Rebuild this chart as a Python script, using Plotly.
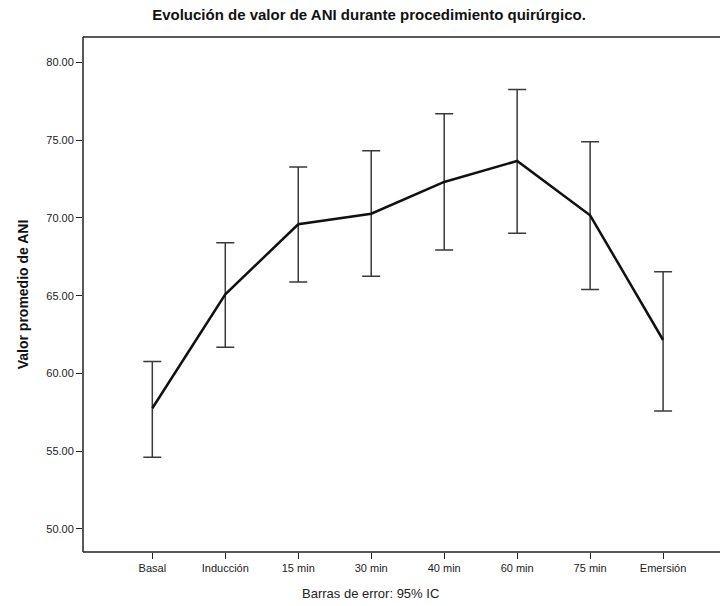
import plotly.graph_objects as go

categories = ["Basal", "Inducción", "15 min", "30 min", "40 min", "60 min", "75 min", "Emersión"]
means = [57.76, 65.09, 69.59, 70.27, 72.31, 73.66, 70.17, 62.15]
ci_upper = [60.76, 68.41, 73.27, 74.32, 76.70, 78.26, 74.90, 66.54]
ci_lower = [54.61, 61.68, 65.88, 66.25, 67.94, 69.01, 65.39, 57.59]
y_ticks = [50, 55, 60, 65, 70, 75, 80]

err_plus = [u - m for u, m in zip(ci_upper, means)]
err_minus = [m - l for m, l in zip(means, ci_lower)]

FONT = "Liberation Sans, Arial, sans-serif"

fig = go.Figure()
fig.add_trace(go.Scatter(
    x=list(range(len(categories))),
    y=means,
    mode="lines",
    line=dict(color="#111111", width=2.5),
    error_y=dict(type="data", symmetric=False, array=err_plus, arrayminus=err_minus,
                 color="#3a3a3a", thickness=1.5, width=9),
    showlegend=False,
    hoverinfo="skip",
))

fig.update_layout(
    width=720, height=606, autosize=False,
    margin=dict(l=83, r=0, t=37, b=54, pad=0, autoexpand=False),
    paper_bgcolor="white", plot_bgcolor="white",
    font=dict(family=FONT, color="#222222"),
    title=dict(text="Evolución de valor de ANI durante procedimiento quirúrgico.",
               x=369 / 720, xref="container", xanchor="center",
               y=1 - 15 / 606, yref="container", yanchor="middle",
               font=dict(family=FONT, size=15, color="#111111", weight="bold")),
    xaxis=dict(
        range=[-0.95, 7.78], automargin=False,
        tickmode="array", tickvals=list(range(len(categories))), ticktext=categories,
        showline=False,
        ticks="outside", ticklen=6, tickcolor="#222222", tickwidth=1.2,
        showgrid=False, zeroline=False,
        tickfont=dict(family=FONT, size=11, color="#222222"),
    ),
    yaxis=dict(
        range=[48.52, 81.63], automargin=False,
        tickmode="array", tickvals=y_ticks, ticktext=[f"{v:.2f}" for v in y_ticks],
        showline=False,
        ticks="outside", ticklen=6, tickcolor="#222222", tickwidth=1.2,
        showgrid=False, zeroline=False,
        tickfont=dict(family=FONT, size=11, color="#222222"),
        title=dict(text="Valor promedio de ANI", standoff=14,
                   font=dict(family=FONT, size=14, color="#111111", weight="bold")),
    ),
)

frame = dict(color="#222222", width=1.5)
fig.add_shape(type="line", xref="paper", yref="paper", x0=0, x1=1.05, y0=1, y1=1, line=frame)
fig.add_shape(type="line", xref="paper", yref="paper", x0=0, x1=1.05, y0=0, y1=0, line=frame)
fig.add_shape(type="line", xref="paper", yref="paper", x0=0, x1=0, y0=0, y1=1, line=frame)

fig.add_annotation(
    text="Barras de error: 95% IC",
    xref="paper", yref="paper",
    x=(370 - 83) / (720 - 83), y=-(593 - 552) / (552 - 37),
    xanchor="center", yanchor="middle", showarrow=False,
    font=dict(family=FONT, size=13, color="#222222"),
)

fig.write_html(
    "out.html",
    post_script="document.documentElement.style.overflow='hidden';"
                "document.body.style.overflow='hidden';document.body.style.margin='0';",
)
